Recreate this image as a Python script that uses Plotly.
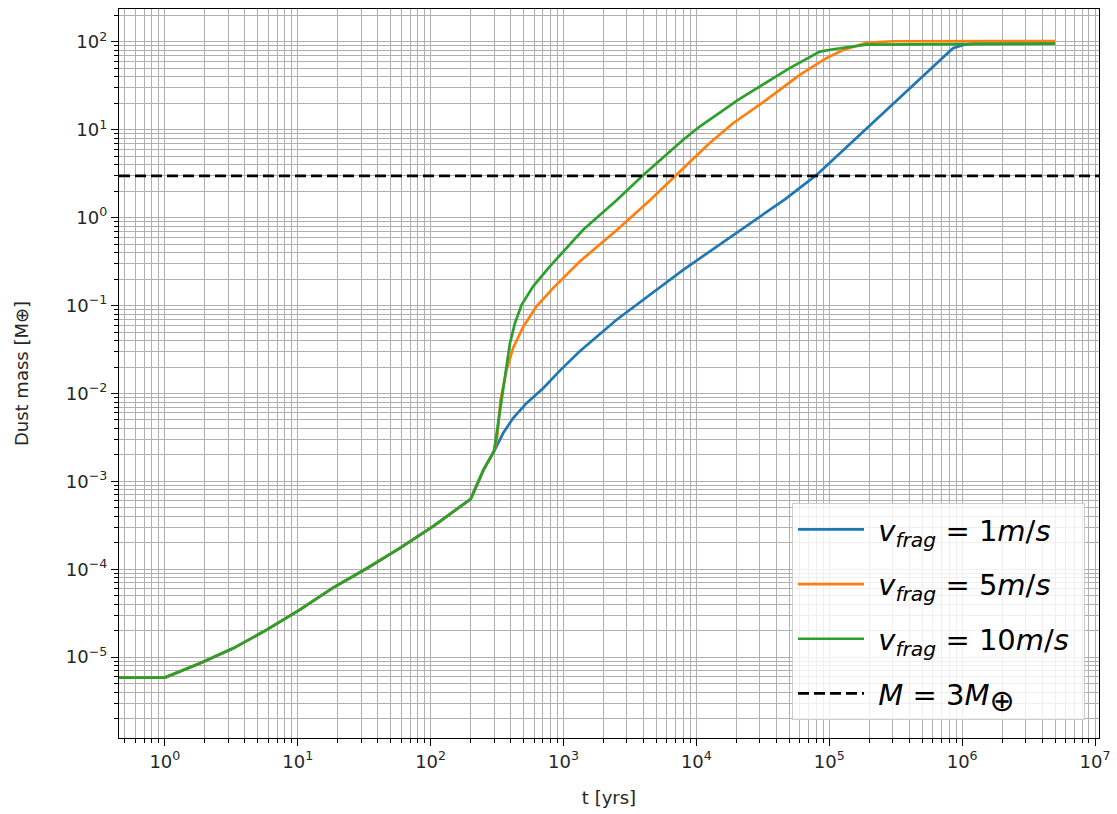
import plotly.graph_objects as go

# ---- data ----
t_common = [0.3, 1.0, 1.84, 3.27, 5.83, 10.4, 18.5, 33.0, 58.7, 105.0, 200.0, 250.0, 300.0]
m_common = [5.86e-6, 5.86e-6, 8.5e-6, 1.26e-5, 2.04e-5, 3.47e-5, 6.17e-5, 1.02e-4,
            1.74e-4, 3.09e-4, 6.3e-4, 1.35e-3, 2.2e-3]

t_v1 = [352, 418, 527, 703, 940, 1320, 2510, 7960, 25300, 46400, 80300,
        190000, 454000, 853000, 1.02e6, 1.2e6, 5e6]
m_v1 = [3.55e-3, 5.25e-3, 7.76e-3, 1.15e-2, 1.82e-2, 3.0e-2, 6.9e-2, 0.255, 0.865,
        1.62, 3.07, 10.3, 35.0, 84.7, 92.5, 95.5, 95.5]

t_v5 = [317, 336, 373, 418, 498, 627, 835, 1320, 2510, 4470, 7090, 12600, 18900,
        33600, 60000, 95000, 127000, 190000, 300000, 5e6]
m_v5 = [3.2e-3, 8.5e-3, 1.86e-2, 3.3e-2, 5.75e-2, 9.8e-2, 0.158, 0.316, 0.72, 1.58,
        3.07, 7.1, 11.9, 21.9, 42.2, 65.3, 81.0, 97.7, 101.9, 102.0]

t_v10 = [332, 363, 395, 431, 484, 591, 790, 1407, 2510, 3990, 7960, 10600, 20600,
         50000, 71000, 85000, 107000, 190000, 5e6]
m_v10 = [6.2e-3, 1.55e-2, 3.7e-2, 6.3e-2, 0.102, 0.166, 0.28, 0.73, 1.58, 3.07, 7.7,
         10.9, 21.9, 50.0, 67.6, 77.6, 82.6, 93.3, 95.5]

M_threshold = 3.0

series_names = [
    "&nbsp;<i>v</i><sub><i>frag</i></sub> = 1<i>m</i>/<i>s</i>&nbsp;",
    "&nbsp;<i>v</i><sub><i>frag</i></sub> = 5<i>m</i>/<i>s</i>&nbsp;",
    "&nbsp;<i>v</i><sub><i>frag</i></sub> = 10<i>m</i>/<i>s</i>&nbsp;",
]
threshold_name = "&nbsp;<i>M</i> = 3<i>M</i><sub><span style='font-size:30px'>⊕</span></sub>"
colors = ["#1f77b4", "#ff7f0e", "#2ca02c"]

x_tick_exps = [0, 1, 2, 3, 4, 5, 6, 7]
y_tick_exps = [-5, -4, -3, -2, -1, 0, 1, 2]

# ---- figure ----
fig = go.Figure()
for name, tt, mm, c in zip(series_names, [t_v1, t_v5, t_v10], [m_v1, m_v5, m_v10], colors):
    fig.add_trace(go.Scatter(x=t_common + tt, y=m_common + mm, mode="lines", name=name,
                             line=dict(color=c, width=2.7), legendgroup=name))

fig.add_hline(y=M_threshold, line=dict(color="black", width=2.7, dash="11px,5px"))
fig.add_trace(go.Scatter(x=[None], y=[None], mode="lines", name=threshold_name,
                         line=dict(color="black", width=2.7, dash="11px,5px"),
                         legendgroup="thr"))

def minor_vals(lo, hi):
    return [d * 10.0 ** e for e in range(lo, hi) for d in range(2, 10)]

grid = "#b0b0b0"
tfont = dict(family="DejaVu Sans", size=18, color="#262626")
axis_common = dict(
    type="log", showline=True, linecolor="black", linewidth=1.3, mirror=True,
    ticks="outside", ticklen=7, tickwidth=1.2, tickcolor="black",
    showgrid=True, gridcolor=grid, gridwidth=1.3, zeroline=False,
    tickfont=tfont, automargin=False,
)

fig.update_xaxes(
    **axis_common,
    range=[-0.345, 7.03],
    tickmode="array",
    tickvals=[10.0 ** e for e in x_tick_exps],
    ticktext=[f"10<sup>{e}</sup>" for e in x_tick_exps],
    minor=dict(tickmode="array", tickvals=minor_vals(-1, 7), ticks="outside", ticklen=4,
               tickwidth=1, tickcolor="black", showgrid=True, gridcolor=grid, gridwidth=1.3),
    title=dict(text="t [yrs]", font=tfont, standoff=20),
)
fig.update_yaxes(
    **axis_common,
    range=[-5.92, 2.375],
    tickmode="array",
    tickvals=[10.0 ** e for e in y_tick_exps],
    ticktext=[f"10<sup>{'−' if e < 0 else ''}{abs(e)}</sup>" for e in y_tick_exps],
    minor=dict(tickmode="array", tickvals=minor_vals(-7, 3), ticks="outside", ticklen=4,
               tickwidth=1, tickcolor="black", showgrid=True, gridcolor=grid, gridwidth=1.3),
    title=dict(text="Dust mass [M⊕]", font=tfont, standoff=32),
)

fig.update_layout(
    width=1117, height=814,
    margin=dict(l=119, r=18, t=9, b=76),
    plot_bgcolor="white", paper_bgcolor="white",
    font=dict(family="DejaVu Sans", color="black"),
    legend=dict(
        x=0.9857, y=0.0247, xanchor="right", yanchor="bottom",
        bgcolor="rgba(255,255,255,0.8)", bordercolor="#cccccc", borderwidth=1,
        font=dict(family="DejaVu Sans", size=29, color="black"),
        tracegroupgap=14, itemwidth=66,
    ),
)

fig.write_html("out.html", config={"displayModeBar": False},
               post_script="document.body.style.margin='0';")
